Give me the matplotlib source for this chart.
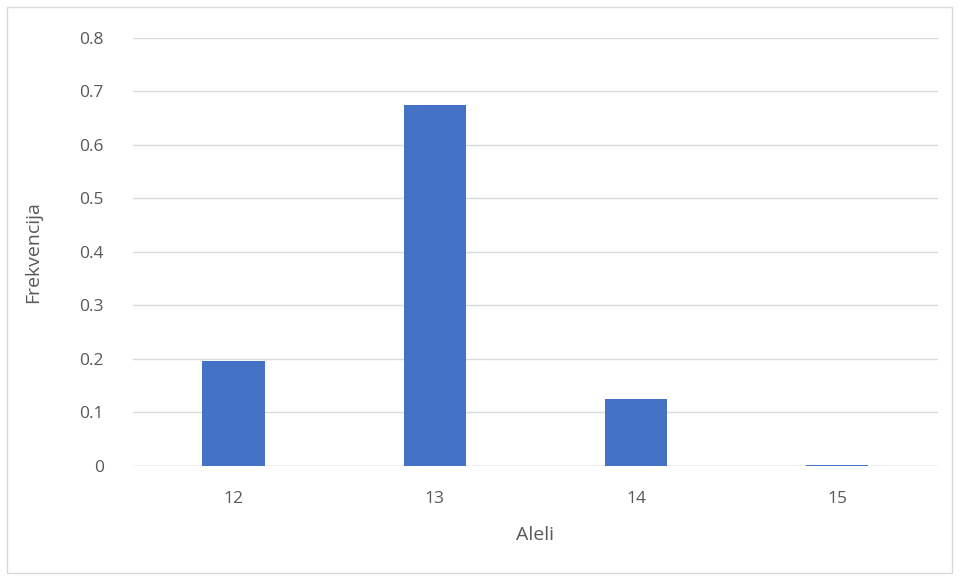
import matplotlib
matplotlib.use("Agg")
import matplotlib.pyplot as plt
from matplotlib.patches import Rectangle

# data
alleles = ["12", "13", "14", "15"]
freqs = [0.197, 0.675, 0.125, 0.002]
yticks = [0, 0.1, 0.2, 0.3, 0.4, 0.5, 0.6, 0.7, 0.8]
ytick_labels = ["0", "0.1", "0.2", "0.3", "0.4", "0.5", "0.6", "0.7", "0.8"]

plt.rcParams['font.family'] = ['Open Sans', 'DejaVu Sans']
txt = '#595959'

fig = plt.figure(figsize=(9.59, 5.80), dpi=100)
ax = fig.add_axes([0.1387, 0.1966, 0.8393, 0.7379])

x = range(len(alleles))
ax.bar(x, freqs, width=0.31, color='#4472C4', zorder=3)

ax.set_xlim(-0.5, len(alleles) - 0.5)
ax.set_ylim(0, 0.8)
ax.set_yticks(yticks)
ax.set_yticklabels(ytick_labels)
ax.set_xticks(list(x))
ax.set_xticklabels(alleles)
ax.yaxis.grid(True, color='#D9D9D9', linewidth=1, zorder=0)
ax.axhline(0, color='#D9D9D9', linewidth=1, zorder=2)

for s in ax.spines.values():
    s.set_visible(False)
ax.tick_params(axis='both', length=0, colors=txt, labelsize=12.5)
ax.tick_params(axis='y', pad=21)
ax.tick_params(axis='x', pad=18)

ax.set_xlabel("Aleli", color=txt, fontsize=14, labelpad=14)
ax.set_ylabel("Frekvencija", color=txt, fontsize=14, labelpad=27)

fig.patches.append(Rectangle((0.007, 0.012), 0.986, 0.976, transform=fig.transFigure,
                             fill=False, edgecolor='#D9D9D9', linewidth=1))

fig.savefig("out.png", dpi=100)
